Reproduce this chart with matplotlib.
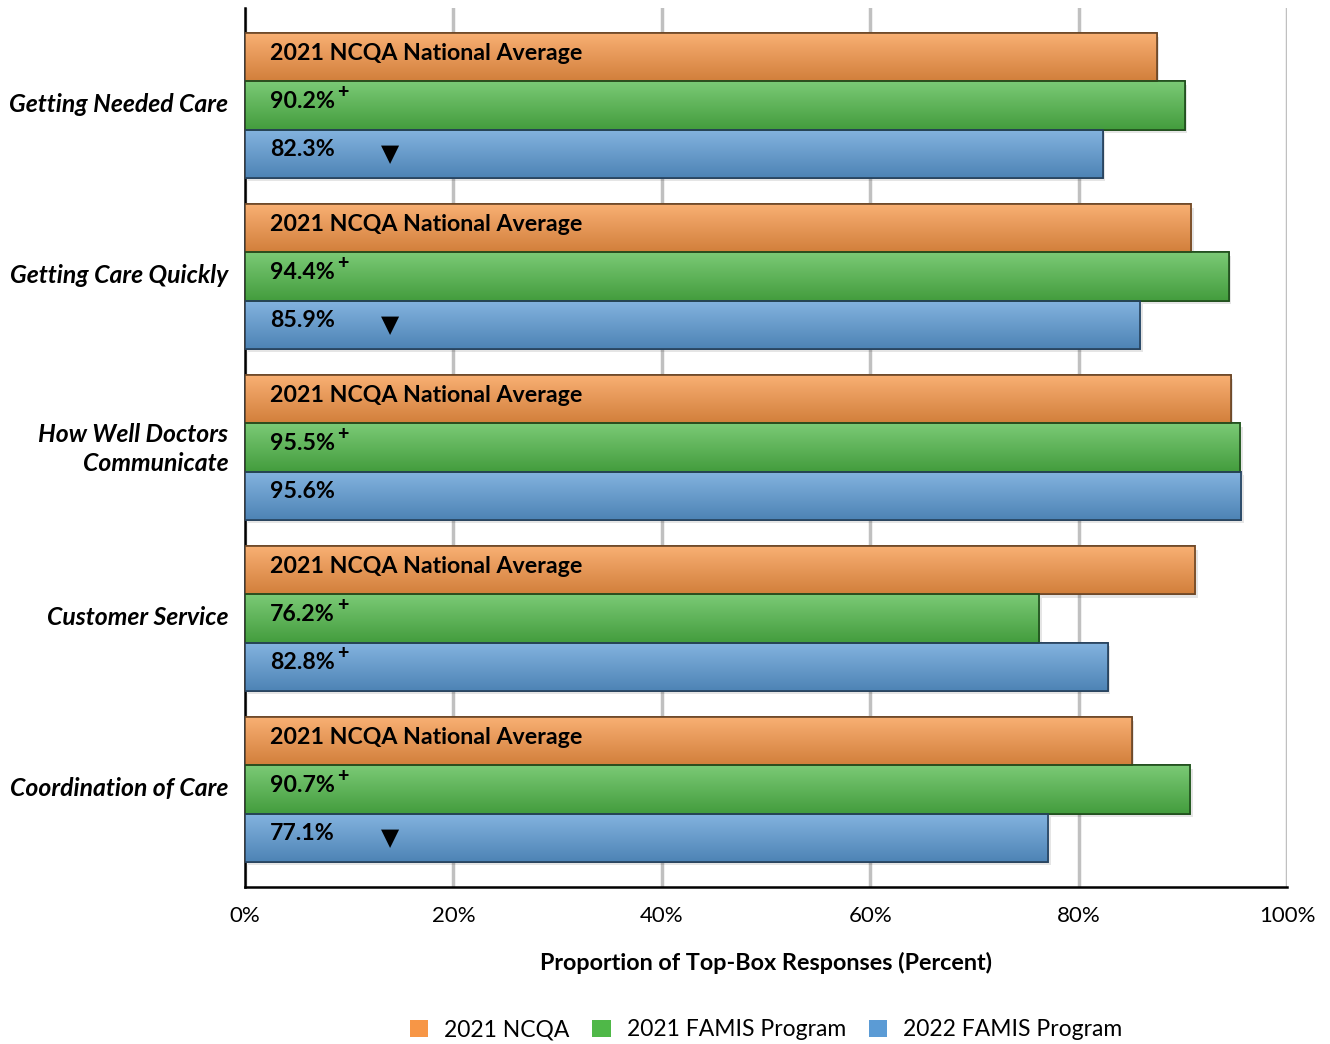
import matplotlib.pyplot as plt
import matplotlib.colors as mcolors
import numpy as np

# ---- data ----
measures = ["Getting Needed Care", "Getting Care Quickly", "How Well Doctors\nCommunicate",
            "Customer Service", "Coordination of Care"]
ncqa_2021 = [87.5, 90.8, 94.6, 91.2, 85.1]
famis_2021 = [90.2, 94.4, 95.5, 76.2, 90.7]
famis_2022 = [82.3, 85.9, 95.6, 82.8, 77.1]
famis_2021_plus = [True, True, True, True, True]
famis_2022_plus = [False, False, False, True, False]
famis_2022_down = [True, True, False, False, True]
series_names = ["2021 NCQA", "2021 FAMIS Program", "2022 FAMIS Program"]
ncqa_label = "2021 NCQA National Average"
xticks = [0, 20, 40, 60, 80, 100]

colors = ["#F79646", "#4FB848", "#5B9BD5"]
edges = ["#6b4626", "#1f4d1c", "#26415c"]

plt.rcParams["font.family"] = ["Lato", "DejaVu Sans"]

fig = plt.figure(figsize=(13.3, 10.44), dpi=100)
ax = fig.add_axes([245 / 1330, 1 - 887 / 1044, (1287 - 245) / 1330, (887 - 8) / 1044])

pitch = 1.0
bar_h = 48 / 170.75
centers = np.arange(len(measures)) * pitch


def shade(color):
    base = np.array(mcolors.to_rgb(color))
    top = base + (1 - base) * 0.25
    bot = base * 0.85
    t = np.linspace(0, 1, 64)[:, None]
    grad = top[None, :] * (1 - t) + bot[None, :] * t
    return grad[:, None, :].repeat(2, axis=1)


all_series = [ncqa_2021, famis_2021, famis_2022]
for k, (vals, col, ec) in enumerate(zip(all_series, colors, edges)):
    ys = centers + (k - 1) * bar_h
    bars = ax.barh(ys, vals, height=bar_h, color=col, edgecolor=ec, linewidth=1.2, zorder=3)
    img = shade(col)
    for b in bars:
        x0, y0 = b.get_x(), b.get_y()
        w, h = b.get_width(), b.get_height()
        # soft shadow
        ax.add_patch(plt.Rectangle((x0 + 0.25, y0 + 0.02), w, h, facecolor="#000000",
                                   alpha=0.10, linewidth=0, zorder=2))
        im = ax.imshow(img, extent=[x0, x0 + w, y0 + h, y0], aspect="auto",
                       interpolation="bicubic", zorder=3.5)
        im.set_clip_path(b)
        outline = plt.Rectangle((x0, y0), w, h, facecolor="none", edgecolor=ec,
                                linewidth=1.2, zorder=4)
        ax.add_patch(outline)

label_x = 2.4
fs = 16.7
dy = -0.025
for i, c in enumerate(centers):
    ax.text(label_x, c - bar_h + dy, ncqa_label, fontsize=fs, fontweight="bold",
            va="center", ha="left", zorder=6)
    t = ax.text(label_x, c + dy, f"{famis_2021[i]:.1f}%", fontsize=fs, fontweight="bold",
                va="center", ha="left", zorder=6)
    if famis_2021_plus[i]:
        ax.annotate("+", xy=(1, 0.5), xycoords=t, xytext=(1.5, 0), textcoords="offset points",
                    fontsize=14, fontweight="black", ha="left", va="bottom", zorder=6)
    t = ax.text(label_x, c + bar_h + dy, f"{famis_2022[i]:.1f}%", fontsize=fs, fontweight="bold",
                va="center", ha="left", zorder=6)
    if famis_2022_plus[i]:
        ax.annotate("+", xy=(1, 0.5), xycoords=t, xytext=(1.5, 0), textcoords="offset points",
                    fontsize=14, fontweight="black", ha="left", va="bottom", zorder=6)
    if famis_2022_down[i]:
        ax.text(13.9, c + bar_h + 0.0, "▼", fontsize=17, ha="center", va="center",
                family=["DejaVu Sans"], zorder=6)

ax.set_ylim(4.5 + 0.07, -0.5 - 0.07)
ax.set_xlim(0, 100)
ax.set_yticks(centers - 0.02)
ax.set_yticklabels(measures, fontsize=17.8, fontweight="bold", style="italic",
                   linespacing=1.3)
ax.tick_params(axis="y", length=0, pad=12)
ax.set_xticks(xticks)
ax.set_xticklabels([f"{v}%" for v in xticks], fontsize=16)
ax.tick_params(axis="x", length=0, pad=14)
ax.grid(axis="x", color="#c0c0c0", linewidth=2.5, zorder=0)
ax.set_axisbelow(True)
for side in ["top", "right"]:
    ax.spines[side].set_visible(False)
ax.spines["left"].set_linewidth(1.8)
ax.spines["bottom"].set_linewidth(1.8)
ax.set_xlabel("Proportion of Top-Box Responses (Percent)", fontsize=16.8, fontweight="bold",
              labelpad=18)

handles = [plt.Rectangle((0, 0), 1, 1, facecolor=c, edgecolor="none") for c in colors]
fig.legend(handles, series_names, loc="center", bbox_to_anchor=(766 / 1330, 1 - 1030 / 1044),
           ncol=3, frameon=False, fontsize=16.5, handlelength=0.8, handleheight=0.8,
           handletextpad=0.7, columnspacing=1.0)

fig.savefig("out.png", dpi=100)
